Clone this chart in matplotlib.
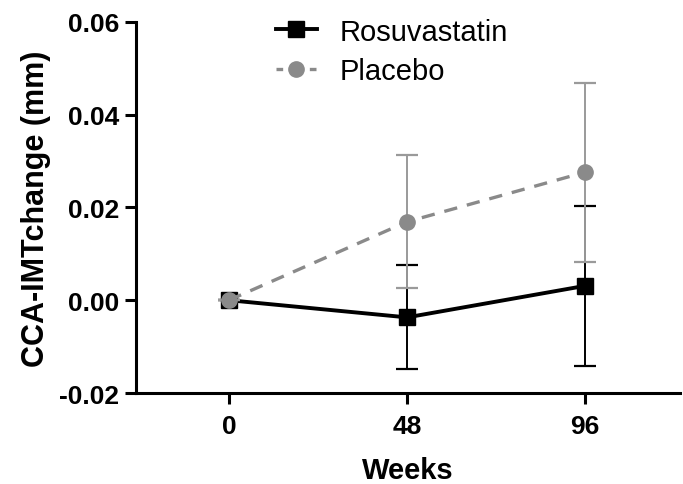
import matplotlib.pyplot as plt
from matplotlib.lines import Line2D

plt.rcParams['font.family'] = ['Liberation Sans', 'DejaVu Sans']

weeks = [0, 48, 96]
rosuvastatin = [0.0, -0.0037, 0.0031]
rosuvastatin_err = [0.0, 0.0112, 0.0173]
placebo = [0.0, 0.0169, 0.0276]
placebo_err = [0.0, 0.0143, 0.0193]

yticks = [-0.02, 0.00, 0.02, 0.04, 0.06]
ytick_labels = ['-0.02', '0.00', '0.02', '0.04', '0.06']

black = 'black'
grey = '#8a8a8a'

fig = plt.figure(figsize=(6.83, 4.85), dpi=100)
ax = fig.add_axes([0.1987, 0.1876, 0.7963, 0.7654])

ax.errorbar(weeks, rosuvastatin, yerr=rosuvastatin_err, color=black,
            marker='s', markersize=11, linewidth=2.8, elinewidth=1.4,
            capsize=8, capthick=1.6, zorder=3)
ax.errorbar(weeks, placebo, yerr=placebo_err, color=grey,
            ecolor='#9a9a9a', marker='o', markersize=11, linewidth=2.4,
            dashes=(4, 3), elinewidth=1.4, capsize=8, capthick=1.6,
            zorder=4)

ax.set_xlim(-25.1, 121.4)
ax.set_ylim(-0.02, 0.06)
ax.set_xticks(weeks)
ax.set_xticklabels([str(w) for w in weeks], fontsize=19, fontweight='bold')
ax.set_yticks(yticks)
ax.set_yticklabels(ytick_labels, fontsize=19, fontweight='bold')

for side in ['top', 'right']:
    ax.spines[side].set_visible(False)
for side in ['left', 'bottom']:
    ax.spines[side].set_linewidth(2.2)
ax.tick_params(axis='both', width=2.2, length=8)
ax.tick_params(axis='y', pad=4)
ax.tick_params(axis='x', pad=7)

ax.set_ylabel('CCA-IMTchange (mm)', fontsize=22, fontweight='bold', labelpad=6)
ax.set_xlabel('Weeks', fontsize=21, fontweight='bold', labelpad=13)

handles = [
    Line2D([], [], color=black, marker='s', markersize=11, linewidth=2.8),
    Line2D([], [], color=grey, marker='o', markersize=11, linewidth=2.4,
           dashes=(2, 3)),
]
ax.legend(handles, ['Rosuvastatin', 'Placebo'], loc='upper left',
          bbox_to_anchor=(264 / 683, 1 - 7 / 485),
          bbox_transform=fig.transFigure, frameon=False, fontsize=21,
          handlelength=1.4, handletextpad=0.8, labelspacing=0.4,
          borderaxespad=0)

fig.savefig('out.png', dpi=100)
